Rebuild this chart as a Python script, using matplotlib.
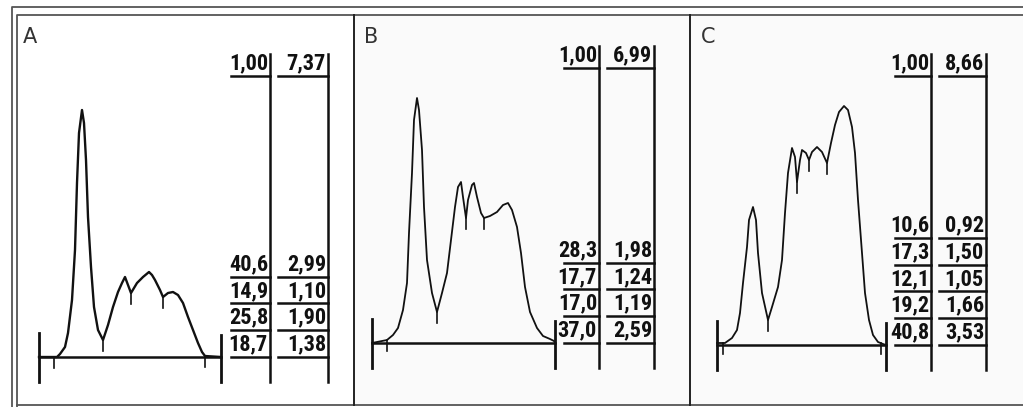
import numpy as np
import matplotlib.pyplot as plt

# densitometer traces: x = scan position from left marker, h = height above baseline
a_x = [0, 18, 21, 26, 29, 33, 36, 38, 40, 43, 45, 47, 49, 52, 55, 59, 64, 69, 74, 79,
       83, 86, 89, 92, 95, 98, 104, 110, 113, 116, 121, 124, 129, 134, 139, 144, 149, 154, 159, 163,
       166, 182]
a_h = [0, 0, 3, 10, 24, 57, 107, 174, 224, 247, 234, 197, 140, 90, 50, 27, 17, 32, 50, 65,
       74, 80, 72, 64, 69, 74, 80, 85, 82, 77, 67, 60, 64, 65, 62, 54, 40, 27, 14, 5,
       1, 0]
a_cuts = [15, 64, 92, 124, 166]

b_x = [0, 15, 21, 26, 31, 35, 37, 40, 42, 45, 47, 50, 52, 55, 60, 65, 70, 75, 79, 83,
       86, 89, 91, 94, 96, 100, 102, 105, 109, 112, 118, 125, 131, 136, 140, 145, 149, 153, 158, 165,
       171, 178, 182, 183]
b_h = [0, 3, 8, 15, 33, 60, 110, 170, 223, 245, 233, 193, 136, 83, 50, 31, 50, 70, 103, 136,
       156, 161, 146, 125, 143, 158, 160, 146, 130, 125, 127, 131, 138, 140, 133, 116, 90, 56, 31, 15,
       7, 4, 2, 0]
b_cuts = [15, 65, 94, 112]

c_x = [0, 8, 15, 20, 23, 26, 30, 32, 36, 39, 41, 45, 51, 55, 61, 65, 68, 71, 75, 78,
       80, 83, 85, 89, 92, 95, 100, 105, 110, 114, 118, 122, 127, 131, 135, 138, 141, 145, 148, 152,
       156, 161, 166, 169]
c_h = [2, 2, 7, 15, 32, 62, 98, 125, 138, 125, 92, 52, 25, 38, 58, 85, 132, 172, 197, 188,
       163, 185, 195, 192, 185, 193, 198, 193, 182, 202, 220, 233, 239, 235, 218, 192, 145, 92, 52, 25,
       10, 3, 1, 0]
c_cuts = [6, 51, 80, 92, 110, 164]

# table values
a_pct = ['40,6', '14,9', '25,8', '18,7']
a_val = ['2,99', '1,10', '1,90', '1,38']
a_tot = '7,37'
b_pct = ['28,3', '17,7', '17,0', '37,0']
b_val = ['1,98', '1,24', '1,19', '2,59']
b_tot = '6,99'
c_pct = ['10,6', '17,3', '12,1', '19,2', '40,8']
c_val = ['0,92', '1,50', '1,05', '1,66', '3,53']
c_tot = '8,66'

panels = [
    dict(name='A', x=a_x, h=a_h, cuts=a_cuts, pct=a_pct, val=a_val, tot=a_tot,
         x0=39, base=357, c1=(231, 270), c2=(278, 328), head=76, bot=382, lw=1.7,
         lab=(23, 27), bg='white', left=17, right=354),
    dict(name='B', x=b_x, h=b_h, cuts=b_cuts, pct=b_pct, val=b_val, tot=b_tot,
         x0=372, base=343, c1=(564, 599), c2=(607, 654), head=68, bot=368, lw=1.3,
         lab=(364, 27), bg='#fafafa', left=354, right=690),
    dict(name='C', x=c_x, h=c_h, cuts=c_cuts, pct=c_pct, val=c_val, tot=c_tot,
         x0=717, base=345, c1=(895, 931), c2=(939, 986), head=76, bot=370, lw=1.3,
         lab=(701, 27), bg='#fafafa', left=690, right=1023),
]

W, H = 1023, 407
fig = plt.figure(figsize=(W / 100, H / 100), dpi=100)
ax = fig.add_axes([0, 0, 1, 1])
ax.set_xlim(0, W)
ax.set_ylim(H, 0)
ax.axis('off')

numfont = dict(family=['Roboto Condensed', 'Roboto', 'DejaVu Sans'], fontstretch='condensed',
               fontsize=16, weight='bold', color='#111111')
rowh = 26.8
k = '#111111'

# frame
ax.plot([12, 12, W], [H, 7, 7], color='#555555', lw=1.3)
ax.plot([17, 17, W], [H, 15, 15], color='#555555', lw=1.3)
ax.plot([17, W], [405, 405], color='#555555', lw=1.3)

for p in panels:
    ax.fill_between([p['left'], p['right']], 15, 405, color=p['bg'], lw=0, zorder=0)
    if p['left'] > 17:
        ax.plot([p['left'], p['left']], [15, 405], color='#222222', lw=1.4)
    ax.text(p['lab'][0], p['lab'][1], p['name'], fontsize=15, family='DejaVu Sans',
            va='top', ha='left', color='#333333')

    x0, base = p['x0'], p['base']
    xs = x0 + np.array(p['x'])
    ys = base - np.array(p['h'])
    span = p['x'][-1]
    # baseline and end markers
    ax.plot([x0, x0 + span], [base, base], color=k, lw=1.8)
    ax.plot([x0, x0], [base - 24, p['bot']], color=k, lw=2.0)
    ax.plot([x0 + span, x0 + span], [base - 22, p['bot']], color=k, lw=2.0)
    # trace
    ax.plot(xs, ys, color=k, lw=p['lw'], solid_joinstyle='round')
    # fraction cuts
    for c in p['cuts']:
        yc = base - np.interp(c, p['x'], p['h'])
        ax.plot([x0 + c, x0 + c], [yc, yc + 11], color=k, lw=1.2)

    # table columns
    n = len(p['pct'])
    for (start, vline), top, rows in [(p['c1'], '1,00', p['pct']), (p['c2'], p['tot'], p['val'])]:
        ax.plot([vline, vline], [p['head'] - 22, p['bot']], color=k, lw=1.8)
        ax.plot([start, vline], [p['head'], p['head']], color=k, lw=1.8)
        ax.text(vline - 2, p['head'] - 1.5, top, ha='right', va='bottom', **numfont)
        for i, s in enumerate(rows):
            ysep = base - (n - 1 - i) * rowh
            ax.plot([start, vline], [ysep, ysep], color=k, lw=1.8)
            ax.text(vline - 2, ysep - 1.5, s, ha='right', va='bottom', **numfont)

fig.savefig('out.png', dpi=100)
